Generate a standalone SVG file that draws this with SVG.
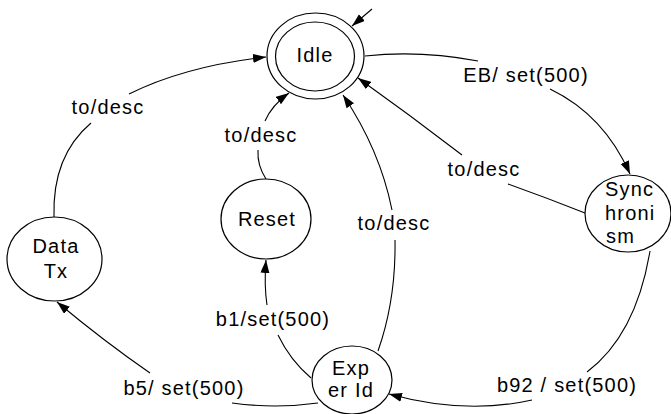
<svg xmlns="http://www.w3.org/2000/svg" width="671" height="414" viewBox="0 0 671 414">
<style>
.node ellipse{fill:#fff;stroke:#000;stroke-width:1.2}
text{font-family:"Liberation Sans",Arial,sans-serif;font-size:20px;letter-spacing:1.2px;fill:#000}
.c{text-anchor:middle}
#connectors path{fill:none;stroke:#000;stroke-width:1.1}
</style>
<defs>
<marker id="ah" markerUnits="userSpaceOnUse" markerWidth="14" markerHeight="10" refX="13" refY="4.5" orient="auto">
<path d="M0,0 L13,4.5 L0,9 z" fill="#000"/>
</marker>
</defs>
<rect width="671" height="414" fill="#fff"/>
<g id="connectors">
<path d="M372,9 L352,26" marker-end="url(#ah)"/>
<path d="M365,56 Q420,50 478,61"/>
<path d="M550,89 Q604,115 630,174" marker-end="url(#ah)"/>
<path d="M585,213 Q547,198 508,184"/>
<path d="M462,155 Q410,115 358,78" marker-end="url(#ah)"/>
<path d="M378,351 Q396,300 395,240"/>
<path d="M392,210 Q380,150 343,95" marker-end="url(#ah)"/>
<path d="M266,179 Q257,165 258,150"/>
<path d="M265,121 Q272,105 289,93" marker-end="url(#ah)"/>
<path d="M54,217 Q52,156 91,123"/>
<path d="M129,94 Q185,66 266,57" marker-end="url(#ah)"/>
<path d="M311,378 Q290,360 278,335"/>
<path d="M267,305 Q264,285 266,260" marker-end="url(#ah)"/>
<path d="M318,403 Q275,409 232,403"/>
<path d="M150,373 Q105,342 57,302" marker-end="url(#ah)"/>
<path d="M650,251 Q636,335 587,372"/>
<path d="M532,400 Q465,415 389,394" marker-end="url(#ah)"/>
</g>
<g id="labels">
<text class="c" x="108" y="114">to/desc</text>
<text class="c" x="261" y="142">to/desc</text>
<text class="c" x="394" y="230">to/desc</text>
<text class="c" x="484" y="176">to/desc</text>
<text class="c" x="526" y="82">EB/ set(500)</text>
<text class="c" x="273" y="326">b1/set(500)</text>
<text class="c" x="184" y="395">b5/ set(500)</text>
<text class="c" x="567" y="392">b92 / set(500)</text>
</g>
<g id="idle" class="node">
<ellipse cx="315.5" cy="56" rx="48.5" ry="43"/>
<ellipse cx="315" cy="56.5" rx="39.5" ry="34.5"/>
<text class="c" x="315" y="62">Idle</text>
</g>
<g id="reset" class="node">
<ellipse cx="266" cy="219" rx="45" ry="40"/>
<text class="c" x="267" y="226">Reset</text>
</g>
<g id="datatx" class="node">
<ellipse cx="54.5" cy="259" rx="47.5" ry="42"/>
<text class="c" x="56" y="253">Data</text>
<text class="c" x="56" y="278">Tx</text>
</g>
<g id="sync" class="node">
<ellipse cx="628" cy="213.5" rx="43" ry="38.5"/>
<text x="605" y="196">Sync</text>
<text x="605" y="220">hroni</text>
<text x="606" y="243">sm</text>
</g>
<g id="experid" class="node">
<ellipse cx="352" cy="380" rx="40" ry="34"/>
<text class="c" x="351" y="375">Exp</text>
<text class="c" x="351" y="397">er Id</text>
</g>
</svg>
